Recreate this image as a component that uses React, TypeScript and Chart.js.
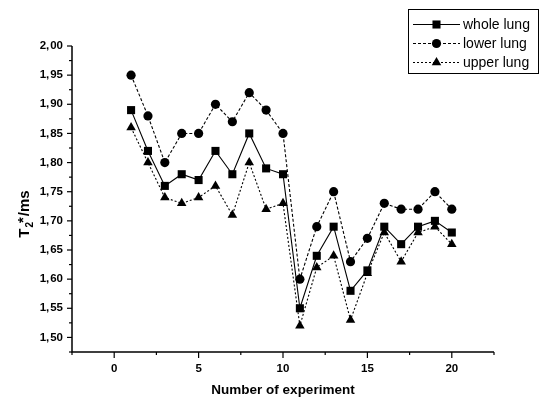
import React, { useEffect, useRef } from 'react';
import { Chart, registerables } from 'chart.js';

Chart.register(...registerables);

const experiments = [1, 2, 3, 4, 5, 6, 7, 8, 9, 10, 11, 12, 13, 14, 15, 16, 17, 18, 19, 20];
const wholeLung = [1.89, 1.82, 1.76, 1.78, 1.77, 1.82, 1.78, 1.85, 1.79, 1.78, 1.55, 1.64, 1.69, 1.58, 1.615, 1.69, 1.66, 1.69, 1.70, 1.68];
const lowerLung = [1.95, 1.88, 1.80, 1.85, 1.85, 1.90, 1.87, 1.92, 1.89, 1.85, 1.60, 1.69, 1.75, 1.63, 1.67, 1.73, 1.72, 1.72, 1.75, 1.72];
const upperLung = [1.86, 1.80, 1.74, 1.73, 1.74, 1.76, 1.71, 1.80, 1.72, 1.73, 1.52, 1.62, 1.64, 1.53, 1.61, 1.68, 1.63, 1.68, 1.69, 1.66];
const seriesNames = ['whole lung', 'lower lung', 'upper lung'];
const xTitle = 'Number of experiment';

const FONT = '"Liberation Sans", Arial, sans-serif';

const isMultiple = (v: number, step: number) => Math.abs(Math.round(v / step) * step - v) < 1e-6;

function drawMarker(ctx: CanvasRenderingContext2D, style: string, x: number, y: number, r: number) {
  ctx.beginPath();
  if (style === 'rect') {
    const s = Math.SQRT1_2 * r;
    ctx.rect(x - s, y - s, 2 * s, 2 * s);
  } else if (style === 'circle') {
    ctx.arc(x, y, r, 0, Math.PI * 2);
  } else {
    const a = -Math.PI / 2;
    ctx.moveTo(x + r * Math.cos(a), y + r * Math.sin(a));
    ctx.lineTo(x + r * Math.cos(a + 2.0944), y + r * Math.sin(a + 2.0944));
    ctx.lineTo(x + r * Math.cos(a + 4.1888), y + r * Math.sin(a + 4.1888));
    ctx.closePath();
  }
  ctx.fillStyle = '#000';
  ctx.fill();
}

const originPlugin = {
  id: 'originAxes',
  afterDraw(chart: any) {
    const { ctx, chartArea, scales } = chart;
    const x = scales.x;
    const y = scales.y;
    ctx.save();
    ctx.strokeStyle = '#000';
    ctx.fillStyle = '#000';
    ctx.lineWidth = 1.5;
    ctx.setLineDash([]);
    // axis lines
    ctx.beginPath();
    ctx.moveTo(chartArea.left, chartArea.top);
    ctx.lineTo(chartArea.left, chartArea.bottom);
    ctx.lineTo(chartArea.right, chartArea.bottom);
    ctx.stroke();
    // ticks
    ctx.lineWidth = 1.2;
    x.ticks.forEach((t: any) => {
      const px = x.getPixelForValue(t.value);
      const len = isMultiple(t.value, 5) ? 6 : 3;
      ctx.beginPath();
      ctx.moveTo(px, chartArea.bottom);
      ctx.lineTo(px, chartArea.bottom + len);
      ctx.stroke();
    });
    y.ticks.forEach((t: any) => {
      const py = y.getPixelForValue(t.value);
      const len = isMultiple(t.value, 0.05) ? 5 : 3;
      ctx.beginPath();
      ctx.moveTo(chartArea.left, py);
      ctx.lineTo(chartArea.left - len, py);
      ctx.stroke();
    });

    // y title with subscript
    ctx.save();
    ctx.translate(23, 214);
    ctx.rotate(-Math.PI / 2);
    ctx.textBaseline = 'alphabetic';
    ctx.textAlign = 'left';
    const big = 'bold 15px ' + FONT;
    const small = 'bold 10px ' + FONT;
    ctx.font = big;
    const wT = ctx.measureText('T').width;
    ctx.font = small;
    const w2 = ctx.measureText('2').width;
    ctx.font = big;
    const wStar = ctx.measureText('*').width;
    const wRest = ctx.measureText('/ms').width;
    const total = wT + 1 + w2 + wStar + wRest;
    let cx = -total / 2;
    const base = 5.5;
    ctx.font = big;
    ctx.fillText('T', cx, base);
    cx += wT + 1;
    ctx.font = small;
    ctx.fillText('2', cx, base + 4);
    cx += w2;
    ctx.font = big;
    ctx.fillText('*', cx - 1, base - 1);
    cx += wStar;
    ctx.fillText('/ms', cx, base);
    ctx.restore();

    // legend
    const lx = 408, ly = 9, lw = 130, lh = 64;
    ctx.lineWidth = 1;
    ctx.strokeStyle = '#000';
    ctx.setLineDash([]);
    ctx.strokeRect(lx + 0.5, ly + 0.5, lw, lh);
    ctx.font = '14px ' + FONT;
    ctx.textBaseline = 'middle';
    ctx.textAlign = 'left';
    chart.data.datasets.forEach((ds: any, i: number) => {
      const ry = 24.5 + i * 19;
      ctx.strokeStyle = '#000';
      ctx.lineWidth = 1;
      ctx.setLineDash(ds.borderDash || []);
      ctx.beginPath();
      ctx.moveTo(413, ry);
      ctx.lineTo(460, ry);
      ctx.stroke();
      ctx.setLineDash([]);
      drawMarker(ctx, ds.pointStyle, 436.5, ry, ds.pointRadius);
      ctx.fillStyle = '#000';
      ctx.fillText(ds.label, 463, ry + 0.5);
    });
    ctx.restore();
  },
};

export default function App() {
  const canvasRef = useRef<HTMLCanvasElement | null>(null);

  useEffect(() => {
    document.body.style.margin = '0';
    const canvas = canvasRef.current;
    if (!canvas) return;
    const mk = (vals: number[]) => experiments.map((e, i) => ({ x: e, y: vals[i] }));
    const chart = new Chart(canvas, {
      type: 'line',
      data: {
        datasets: [
          {
            label: seriesNames[0],
            data: mk(wholeLung),
            borderColor: '#000',
            backgroundColor: '#000',
            borderWidth: 1.1,
            pointStyle: 'rect',
            pointRadius: 5.7,
            pointBorderWidth: 0,
            borderDash: [],
          },
          {
            label: seriesNames[1],
            data: mk(lowerLung),
            borderColor: '#000',
            backgroundColor: '#000',
            borderWidth: 1.1,
            pointStyle: 'circle',
            pointRadius: 4.6,
            pointBorderWidth: 0,
            borderDash: [3, 2],
          },
          {
            label: seriesNames[2],
            data: mk(upperLung),
            borderColor: '#000',
            backgroundColor: '#000',
            borderWidth: 1.1,
            pointStyle: 'triangle',
            pointRadius: 5.5,
            pointBorderWidth: 0,
            borderDash: [2, 2],
          },
        ],
      },
      options: {
        animation: false,
        responsive: false,
        maintainAspectRatio: false,
        devicePixelRatio: 1,
        layout: { padding: { left: 0, top: 46, right: 49, bottom: 0 } },
        plugins: { legend: { display: false }, tooltip: { enabled: false } },
        elements: { line: { tension: 0 } },
        scales: {
          x: {
            type: 'linear',
            min: -2.5,
            max: 22.5,
            grid: { display: false, drawTicks: false },
            border: { display: false },
            ticks: {
              stepSize: 2.5,
              autoSkip: false,
              maxRotation: 0,
              padding: 10,
              color: '#000',
              font: { family: FONT, size: 11.5, weight: 'bold' },
              callback: (v: any) => (isMultiple(Number(v), 5) ? String(Math.round(Number(v))) : ''),
            },
            title: {
              display: true,
              text: xTitle,
              color: '#000',
              font: { family: FONT, size: 13.5, weight: 'bold' },
              padding: { top: 0, bottom: 0 },
            },
            afterFit: (s: any) => { s.height = 46; },
          },
          y: {
            type: 'linear',
            min: 1.475,
            max: 2.0,
            grid: { display: false, drawTicks: false },
            border: { display: false },
            ticks: {
              stepSize: 0.025,
              autoSkip: false,
              padding: 9,
              color: '#000',
              font: { family: FONT, size: 11.5, weight: 'bold' },
              callback: (v: any) => {
                if (!isMultiple(Number(v), 0.05)) return '';
                const parts = Number(v).toFixed(2).split('.');
                return parts[0] + ',\u200A' + parts[1];
              },
            },
            afterFit: (s: any) => { s.width = 72; },
          },
        },
      },
      plugins: [originPlugin],
    });
    return () => chart.destroy();
  }, []);

  return (
    <div style={{ position: 'absolute', left: 0, top: 0, width: 543, height: 398, background: '#fff' }}>
      <canvas ref={canvasRef} width={543} height={398} style={{ display: 'block', width: 543, height: 398 }} />
    </div>
  );
}
